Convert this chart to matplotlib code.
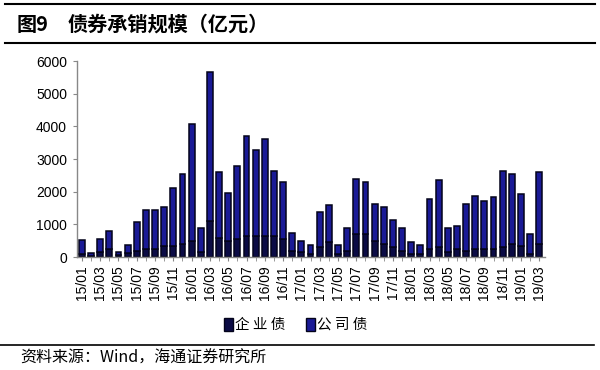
import numpy as np
import matplotlib.pyplot as plt
from matplotlib.lines import Line2D
import matplotlib.patches as mpatches

plt.rcParams['font.family'] = ['Liberation Sans', 'Noto Sans CJK SC', 'DejaVu Sans']

# monthly labels 15/01 .. 19/03
months = [f"{y}/{m:02d}" for y in range(15, 20) for m in range(1, 13)][:51]

total = [510, 120, 560, 800, 170, 360, 1090, 1430, 1430, 1530, 2115, 2555,
         4060, 900, 5660, 2600, 1960, 2790, 3700, 3290, 3620, 2650, 2300, 745,
         500, 360, 1380, 1585, 360, 890, 2400, 2300, 1625, 1520, 1145, 890,
         460, 360, 1780, 2360, 890, 950, 1635, 1880, 1725, 1830, 2650, 2555,
         1920, 715, 2595]
qiye = [100, 50, 150, 250, 80, 120, 200, 250, 250, 350, 350, 400,
        500, 150, 1100, 600, 500, 550, 650, 650, 650, 650, 550, 200,
        150, 100, 300, 450, 100, 200, 700, 700, 500, 400, 300, 200,
        100, 100, 250, 300, 150, 250, 200, 250, 250, 250, 300, 400,
        350, 100, 400]
gongsi = [t - q for t, q in zip(total, qiye)]

C_QIYE = "#0b0b45"
C_GONGSI = "#1a1a96"
C_EDGE = "#03031a"

fig = plt.figure(figsize=(6, 3.7), dpi=100)
ax = fig.add_axes([0.128, 0.305, 0.78, 0.53])

x = np.arange(len(months))
ax.bar(x, qiye, width=0.64, color=C_QIYE, edgecolor=C_EDGE, linewidth=1.1)
ax.bar(x, gongsi, bottom=qiye, width=0.64, color=C_GONGSI, edgecolor=C_EDGE, linewidth=1.1)

ax.set_xlim(-0.55, 50.6)
ax.set_ylim(0, 6000)
ax.set_yticks(range(0, 6001, 1000))
ax.tick_params(axis="y", labelsize=10, length=3, color="#888888", pad=4)
ax.set_xticks(x[::2])
ax.set_xticklabels(months[::2], rotation=90, fontsize=10)
ax.set_xticks(x, minor=True)
ax.tick_params(axis="x", which="both", length=3, color="#888888", pad=3)

for s in ["top", "right"]:
    ax.spines[s].set_visible(False)
for s in ["left", "bottom"]:
    ax.spines[s].set_color("#888888")
    ax.spines[s].set_linewidth(1.0)

# legend
handles = [mpatches.Patch(facecolor=C_QIYE, edgecolor=C_EDGE, label="企 业 债"),
           mpatches.Patch(facecolor=C_GONGSI, edgecolor=C_EDGE, label="公 司 债")]
fig.legend(handles=handles, loc="center", bbox_to_anchor=(0.493, 0.122), ncol=2,
           frameon=False, handlelength=0.6, handleheight=1.0,
           handletextpad=0.15, columnspacing=1.4,
           prop={"family": ["Noto Sans CJK SC"], "size": 10.5})

# title block with rules
fig.add_artist(Line2D([0.008, 0.992], [0.989, 0.989], color="black", lw=1.5))
fig.add_artist(Line2D([0.008, 0.992], [0.884, 0.884], color="black", lw=1.5))
fig.text(0.028, 0.935, "图9", fontsize=14.5, fontweight="bold",
         va="center", ha="left", family=["Noto Sans CJK SC"])
fig.text(0.112, 0.935, "债券承销规模（亿元）", fontsize=14.5, fontweight="bold",
         va="center", ha="left", family=["Noto Sans CJK SC"])

# source
fig.add_artist(Line2D([0.0, 0.99], [0.068, 0.068], color="black", lw=1.2))
fig.text(0.033, 0.032, "资料来源：Wind，海通证券研究所", fontsize=11.5, va="center", ha="left",
         family=["Noto Sans CJK SC", "Liberation Sans"])

fig.savefig("out.png", dpi=100, facecolor="white")
